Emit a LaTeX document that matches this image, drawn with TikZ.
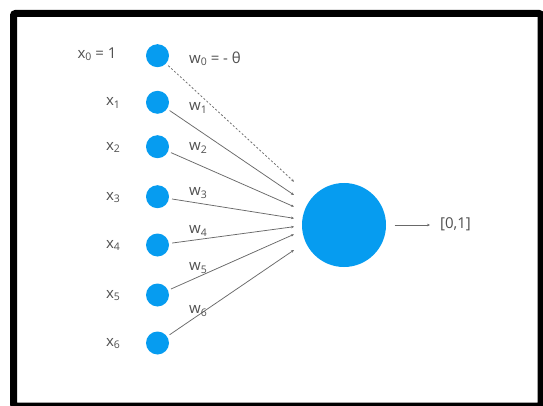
\documentclass[tikz,border=0pt]{standalone}
\usepackage{fontspec}
\setmainfont{Open Sans}
\usetikzlibrary{arrows.meta}
\definecolor{nodeblue}{RGB}{6,156,240}
\definecolor{txtgray}{RGB}{80,80,80}
\definecolor{linegray}{RGB}{105,105,105}
\newcommand\mysub[1]{\raisebox{-2.5pt}{\fontsize{10.5}{11}\selectfont #1}}
\tikzset{
  inp/.style={circle,fill=nodeblue,draw=none,minimum size=23pt,inner sep=0pt},
  outn/.style={circle,fill=nodeblue,draw=none,minimum size=84pt,inner sep=0pt},
  lbl/.style={text=txtgray,font=\fontsize{15}{17}\selectfont,inner sep=0pt},
  wire/.style={draw=linegray,line width=0.75pt,shorten <=3pt,-{Stealth[length=3pt,width=2.6pt]}},
  dwire/.style={wire,dash pattern=on 2pt off 2pt}
}
\begin{document}
\begin{tikzpicture}[x=1pt,y=-1pt]
\useasboundingbox (0,0) rectangle (543,406);
\fill[white] (0,0) rectangle (543,406);
\draw[line width=7pt,rounded corners=2pt] (13.5,13.5) rectangle (541,406);
% input nodes
\node[inp] (x0) at (157.5,55.7) {};
\node[inp] (x1) at (157.5,102.3) {};
\node[inp] (x2) at (157.5,146.7) {};
\node[inp] (x3) at (157.5,196.7) {};
\node[inp] (x4) at (157.5,245) {};
\node[inp] (x5) at (157.5,295) {};
\node[inp] (x6) at (157.5,343) {};
% output node
\node[outn] (out) at (344,225) {};
% endpoints
\coordinate (e0) at (294,181.7);
\coordinate (e1) at (294,195);
\coordinate (e2) at (294,206.7);
\coordinate (e3) at (294,218.3);
\coordinate (e4) at (294,226.7);
\coordinate (e5) at (294,234.3);
\coordinate (e6) at (294,250);
\coordinate (o1) at (394.5,225);
\coordinate (o2) at (430,225);
% connectors
\draw[dwire] (x0) -- (e0);
\draw[wire] (x1) -- (e1);
\draw[wire] (x2) -- (e2);
\draw[wire] (x3) -- (e3);
\draw[wire] (x4) -- (e4);
\draw[wire] (x5) -- (e5);
\draw[wire] (x6) -- (e6);
\draw[wire,shorten <=0pt] (o1) -- (o2);
% input labels
\node[lbl] (l0) at (97,54) {x\mysub{0} = 1};
\node[lbl] (l1) at (113,103) {x\mysub{1}};
\node[lbl] (l2) at (113,147.5) {x\mysub{2}};
\node[lbl] (l3) at (113,197.5) {x\mysub{3}};
\node[lbl] (l4) at (113,245.5) {x\mysub{4}};
\node[lbl] (l5) at (113,295.5) {x\mysub{5}};
\node[lbl] (l6) at (113,343.5) {x\mysub{6}};
% weight labels
\node[lbl,anchor=west] (w0) at (189,59) {w\mysub{0} = - θ};
\node[lbl] (w1) at (198,108) {w\mysub{1}};
\node[lbl] (w2) at (198,148) {w\mysub{2}};
\node[lbl] (w3) at (198,193) {w\mysub{3}};
\node[lbl] (w4) at (198,231) {w\mysub{4}};
\node[lbl] (w5) at (198,268) {w\mysub{5}};
\node[lbl] (w6) at (198,311) {w\mysub{6}};
% output label
\node[lbl,anchor=west] (res) at (440,224) {[0,1]};
\end{tikzpicture}
\end{document}
